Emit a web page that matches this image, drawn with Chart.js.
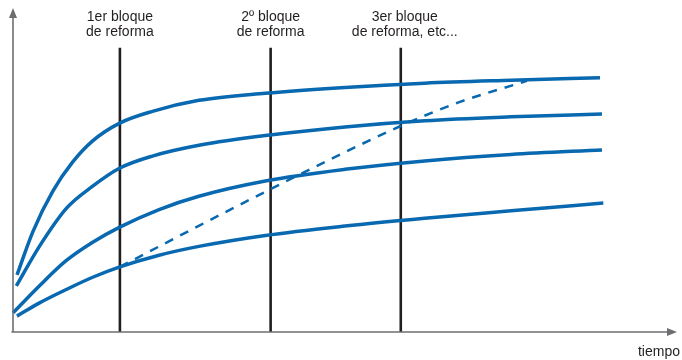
<!DOCTYPE html>
<html>
<head>
<meta charset="utf-8">
<script src="https://cdn.jsdelivr.net/npm/chart.js@4"></script>
<style>
html,body{margin:0;padding:0;background:#fff;}
#wrap{width:682px;height:360px;position:relative;}
</style>
</head>
<body>
<div id="wrap"><canvas id="c"></canvas></div>
<script>
// time axis (0..100) and level (0..100)
const curveA_t = [0.6, 3, 6, 9, 12, 16, 21, 28, 38, 50, 62, 75, 88.4];
const curveA_v = [17.6, 31.0, 43.5, 52.5, 59.0, 64.4, 68.1, 71.5, 73.7, 75.5, 76.8, 77.7, 78.5];

const curveB_t = [0.5, 4, 8.1, 12, 16.1, 21, 28.2, 38.7, 50, 62, 75, 88.7];
const curveB_v = [14.2, 26.5, 38.3, 45.0, 50.6, 54.3, 57.7, 60.8, 63.3, 65.2, 66.4, 67.3];

const curveC_t = [0, 4, 8, 12, 16, 22, 28, 38, 50, 62, 75, 88.7];
const curveC_v = [5.9, 14.3, 22.0, 27.7, 32.3, 37.8, 41.9, 46.6, 50.2, 52.8, 54.8, 56.2];

const curveD_t = [0.6, 4, 8.1, 12, 16.1, 22, 28.2, 38, 50, 62, 75, 88.9];
const curveD_v = [4.9, 9.0, 13.2, 16.9, 20.1, 23.7, 26.5, 29.8, 32.7, 35.1, 37.4, 39.8];

const dashed_t = [16.1, 28.2, 38.7, 48, 58.3, 67, 77.4];
const dashed_v = [20.1, 33.0, 44.0, 53.5, 63.5, 70.8, 77.5];

const reformTimes = [16.1, 38.8, 58.4];
const reformTop = 87.7;
const reformLabels = [
  ["1er bloque", "de reforma"],
  ["2º bloque", "de reforma"],
  ["3er bloque", "de reforma, etc..."]
];
const xAxisLabel = "tiempo";

const BLUE = "#0868b0";
const DARK = "#231f20";
const AXIS = "#6d6e71";

function pts(t, v){ return t.map((x,i)=>({x:x, y:v[i]})); }

const curveStyle = {borderColor: BLUE, borderWidth: 3.5, pointRadius: 0, cubicInterpolationMode: 'monotone', fill: false, clip: false};

const datasets = [];
reformTimes.forEach(t => {
  datasets.push({data: [{x:t,y:0},{x:t,y:reformTop}], borderColor: DARK, borderWidth: 2.6, pointRadius: 0, tension: 0, clip: false, order: 2});
});
datasets.push(Object.assign({data: pts(curveA_t, curveA_v), order: 1}, curveStyle));
datasets.push(Object.assign({data: pts(curveB_t, curveB_v), order: 1}, curveStyle));
datasets.push(Object.assign({data: pts(curveC_t, curveC_v), order: 1}, curveStyle));
datasets.push(Object.assign({data: pts(curveD_t, curveD_v), order: 1}, curveStyle));
datasets.push({data: pts(dashed_t, dashed_v), borderColor: BLUE, borderWidth: 2.5, borderDash: [9, 8], pointRadius: 0, cubicInterpolationMode: 'monotone', clip: false, order: 1});

const decor = {
  id: 'decor',
  afterDatasetsDraw(chart){
    const ctx = chart.ctx;
    const xs = chart.scales.x, ys = chart.scales.y;
    const x0 = xs.getPixelForValue(0), y0 = ys.getPixelForValue(0);
    const xEnd = xs.getPixelForValue(100), yEnd = ys.getPixelForValue(100);
    ctx.save();
    ctx.strokeStyle = AXIS; ctx.fillStyle = AXIS; ctx.lineWidth = 1.6;
    ctx.beginPath(); ctx.moveTo(x0, y0); ctx.lineTo(x0, yEnd + 7); ctx.stroke();
    ctx.beginPath(); ctx.moveTo(x0 - 1.6, y0); ctx.lineTo(xEnd - 7, y0); ctx.stroke();
    ctx.beginPath(); ctx.moveTo(x0, yEnd); ctx.lineTo(x0 - 4, yEnd + 10); ctx.lineTo(x0 + 4, yEnd + 10); ctx.closePath(); ctx.fill();
    ctx.beginPath(); ctx.moveTo(xEnd, y0); ctx.lineTo(xEnd - 10, y0 - 4); ctx.lineTo(xEnd - 10, y0 + 4); ctx.closePath(); ctx.fill();
    ctx.fillStyle = DARK;
    ctx.font = '14px "Liberation Sans", Arial, sans-serif';
    ctx.textAlign = 'center'; ctx.textBaseline = 'middle';
    reformTimes.forEach((t,i) => {
      const px = xs.getPixelForValue(t);
      ctx.fillText(reformLabels[i][0], px + (i===2?4:0), 17);
      ctx.fillText(reformLabels[i][1], px + (i===2?4:0), 32);
    });
    ctx.textAlign = 'right';
    ctx.fillText(xAxisLabel, xEnd + 3, y0 + 20);
    ctx.restore();
  }
};

new Chart(document.getElementById('c'), {
  type: 'line',
  data: {datasets},
  options: {
    responsive: true, maintainAspectRatio: false, animation: false,
    layout: {padding: {left: 13, right: 5, top: 8, bottom: 28}},
    plugins: {legend: {display: false}, tooltip: {enabled: false}},
    scales: {
      x: {type: 'linear', min: 0, max: 100, display: false},
      y: {type: 'linear', min: 0, max: 100, display: false}
    }
  },
  plugins: [decor]
});
</script>
</body>
</html>
